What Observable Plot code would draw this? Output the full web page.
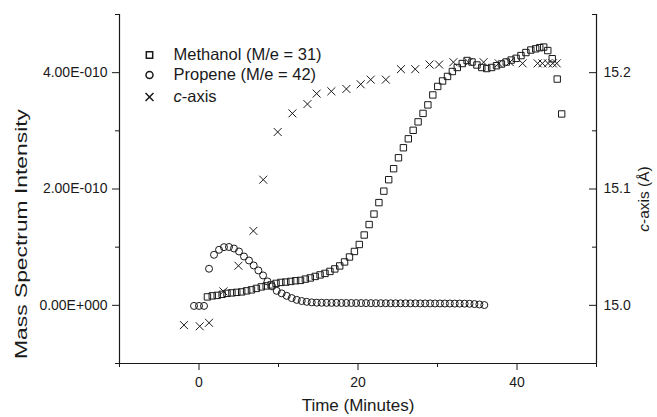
<!DOCTYPE html>
<html><head><meta charset="utf-8">
<script src="https://cdn.jsdelivr.net/npm/d3@7"></script>
<script src="https://cdn.jsdelivr.net/npm/@observablehq/plot@0.6"></script>
<style>
body{margin:0;background:#fff;}
svg{font-family:"Liberation Sans",Arial,sans-serif;}
</style>
</head><body><div id="chart"></div>
<script>
// Methanol (M/e = 31), intensity in units of 1e-10
const methanolTime = [1.06,1.67,2.29,2.91,3.52,4.14,4.75,5.37,5.99,6.6,7.22,7.84,8.45,9.07,9.69,10.3,10.92,11.53,12.15,12.77,13.38,14.0,14.62,15.23,15.85,16.47,17.08,17.7,18.31,18.93,19.55,20.16,20.78,21.4,22.01,22.63,23.25,23.86,24.48,25.09,25.71,26.33,26.94,27.56,28.18,28.79,29.41,30.03,30.64,31.26,31.87,32.49,33.11,33.72,34.34,34.96,35.57,36.19,36.81,37.42,38.04,38.65,39.27,39.89,40.5,41.12,41.74,42.35,42.86,43.36,43.87,44.43,45.06,45.62];
const methanolValue = [0.145,0.163,0.171,0.189,0.206,0.214,0.223,0.231,0.249,0.266,0.291,0.317,0.334,0.351,0.377,0.394,0.40,0.411,0.423,0.429,0.451,0.471,0.497,0.523,0.549,0.583,0.626,0.677,0.746,0.831,0.926,1.046,1.209,1.389,1.569,1.766,1.963,2.16,2.349,2.537,2.709,2.863,3.009,3.154,3.3,3.446,3.617,3.763,3.857,3.935,4.02,4.089,4.157,4.209,4.183,4.132,4.089,4.071,4.089,4.12,4.149,4.183,4.217,4.246,4.294,4.346,4.389,4.41,4.43,4.44,4.38,4.24,3.89,3.29];

// Propene (M/e = 42), intensity in units of 1e-10
const propeneTime = [-0.63,0,0.63,1.26,1.89,2.52,3.14,3.77,4.4,5.03,5.66,6.29,6.88,7.47,8.06,8.62,9.19,9.78,10.4,11.03,11.66,12.29,12.92,13.55,14.18,14.81,15.43,16.05,16.67,17.29,17.91,18.53,19.15,19.77,20.39,21.01,21.63,22.25,22.87,23.49,24.11,24.73,25.35,25.97,26.59,27.21,27.83,28.45,29.07,29.69,30.31,30.93,31.55,32.17,32.79,33.41,34.03,34.65,35.27,35.89];
const propeneValue = [-0.01,-0.01,-0.01,0.629,0.869,0.955,1.0,1.003,0.977,0.926,0.84,0.771,0.686,0.6,0.514,0.411,0.326,0.249,0.206,0.163,0.125,0.094,0.074,0.06,0.051,0.046,0.044,0.043,0.042,0.042,0.041,0.04,0.04,0.039,0.039,0.038,0.038,0.037,0.037,0.036,0.036,0.035,0.035,0.035,0.034,0.034,0.033,0.033,0.033,0.032,0.032,0.031,0.031,0.03,0.03,0.029,0.027,0.022,0.015,0.005];

// c-axis (Å)
const cAxisTime = [-1.89,0.09,1.26,3.07,4.96,6.84,8.08,9.9,11.75,13.64,14.8,16.65,18.54,20.34,21.6,23.5,25.4,27.2,29.0,30.2,32.0,33.9,35.8,37.7,39.1,40.7,42.6,43.2,43.9,44.5,45.0];
const cAxisValue = [14.983,14.982,14.985,15.012,15.034,15.064,15.108,15.149,15.165,15.173,15.182,15.184,15.186,15.19,15.194,15.194,15.203,15.203,15.207,15.207,15.209,15.209,15.209,15.208,15.209,15.208,15.208,15.208,15.208,15.208,15.208];

const xMajorTicks = [0, 20, 40];
const xMinorTicks = [-10, 10, 30, 50];
const leftMajorTicks = [0, 2, 4];      // ×1e-10
const leftMinorTicks = [-1, 1, 3, 5];
const rightMajorTicks = [15.0, 15.1, 15.2];
const rightMinorTicks = [14.95, 15.05, 15.15, 15.25];
const legendLabels = ["Methanol (M/e = 31)", "Propene (M/e = 42)", "c-axis"];
const legendSymbols = ["square", "circle", "times"];

// right axis (Å) aligned to left scale: 15.0 ↔ 0, 15.2 ↔ 4e-10
const toLeft = c => (c - 15) * 20;
const fromLeft = v => v / 20 + 15;

const meth = methanolTime.map((t, i) => ({t, v: methanolValue[i]}));
const prop = propeneTime.map((t, i) => ({t, v: propeneValue[i]}));
const caxis = cAxisTime.map((t, i) => ({t, v: toLeft(cAxisValue[i])}));

const ink = "#1a1a1a";
const fmtLeft = d => d === 0 ? "0.00E+000" : d.toFixed(2) + "E-010";
const FW = 657 - 119 - 61;

const plot = Plot.plot({
  width: 657, height: 417,
  marginLeft: 119, marginRight: 61, marginTop: 14, marginBottom: 54,
  style: {fontFamily: "'Liberation Sans', Arial, sans-serif", fontSize: "14px", color: ink, background: "#fff", overflow: "visible"},
  x: {domain: [-10, 50]},
  y: {domain: [-1, 5]},
  marks: [
    Plot.axisX({ticks: xMajorTicks, tickSize: 7, tickPadding: 7, tickFormat: d => String(d), label: null, fontSize: 14, stroke: ink}),
    Plot.axisX({ticks: xMinorTicks, tickSize: 4, tickFormat: () => "", label: null, stroke: ink}),
    Plot.axisY({anchor: "left", ticks: leftMajorTicks, tickSize: 7, tickPadding: 5, tickFormat: fmtLeft, label: null, fontSize: 14, stroke: ink}),
    Plot.axisY({anchor: "left", ticks: leftMinorTicks, tickSize: 4, tickFormat: () => "", label: null, stroke: ink}),
    Plot.axisY({anchor: "left", ticks: rightMajorTicks.map(toLeft), tickSize: 7, dx: FW, tickFormat: () => "", label: null, stroke: ink}),
    Plot.axisY({anchor: "left", ticks: rightMinorTicks.map(toLeft), tickSize: 4, dx: FW, tickFormat: () => "", label: null, stroke: ink}),
    Plot.axisY({anchor: "right", ticks: rightMajorTicks.map(toLeft), tickSize: 0, tickPadding: 7, tickFormat: d => fromLeft(d).toFixed(1), label: null, fontSize: 14}),
    Plot.ruleX([-10, 50], {stroke: ink, strokeWidth: 1.2}),
    Plot.ruleY([-1], {stroke: ink, strokeWidth: 1.2}),
    Plot.dot(caxis, {x: "t", y: "v", symbol: "times", r: 3.7, stroke: ink, strokeWidth: 1}),
    Plot.dot(prop, {x: "t", y: "v", symbol: "circle", r: 3.5, stroke: ink, fill: "white", fillOpacity: 0, strokeWidth: 1}),
    Plot.dot(meth, {x: "t", y: "v", symbol: "square", r: 3.6, stroke: ink, fill: "none", strokeWidth: 1}),
    // legend
    ...legendLabels.map((lab, i) => Plot.dot([lab], {frameAnchor: "top-left", dx: 30, dy: [40.5, 60.5, 82.5][i], symbol: legendSymbols[i], r: [3.6, 3.5, 3.7][i], stroke: ink, fill: "none"})),
    ...legendLabels.map((lab, i) => Plot.text([lab], {frameAnchor: "top-left", dx: 54, dy: [40.5, 60.5, 82][i], text: d => d, textAnchor: "start", lineAnchor: "middle", fontSize: 16.5, fill: ink})),
    // axis titles
    Plot.text(["Time (Minutes)"], {frameAnchor: "bottom", dy: 42, text: d => d, fontSize: 17, lineAnchor: "middle", fill: ink}),
    Plot.text(["Mass Spectrum Intensity"], {frameAnchor: "left", dx: -98, dy: 45, rotate: -90, text: d => d, textAnchor: "middle", fontSize: 17, lineAnchor: "middle", fill: ink}),
    Plot.text(["c-axis (Å)"], {frameAnchor: "right", dx: 48, dy: 10, rotate: -90, text: d => d, textAnchor: "middle", fontSize: 15.5, lineAnchor: "middle", fill: ink})
  ]
});

plot.querySelectorAll("text").forEach(t => {
  const s = t.textContent;
  if (s === "c-axis" || s === "c-axis (Å)") {
    t.textContent = "";
    const ns = "http://www.w3.org/2000/svg";
    const a = document.createElementNS(ns, "tspan");
    a.setAttribute("font-style", "italic");
    a.textContent = "c";
    const b = document.createElementNS(ns, "tspan");
    b.textContent = s.slice(1);
    t.appendChild(a); t.appendChild(b);
  }
  if (s === "Mass Spectrum Intensity") {
    t.setAttribute("textLength", "250");
    t.setAttribute("lengthAdjust", "spacingAndGlyphs");
  }
});

document.getElementById("chart").appendChild(plot);
</script>
</body></html>
